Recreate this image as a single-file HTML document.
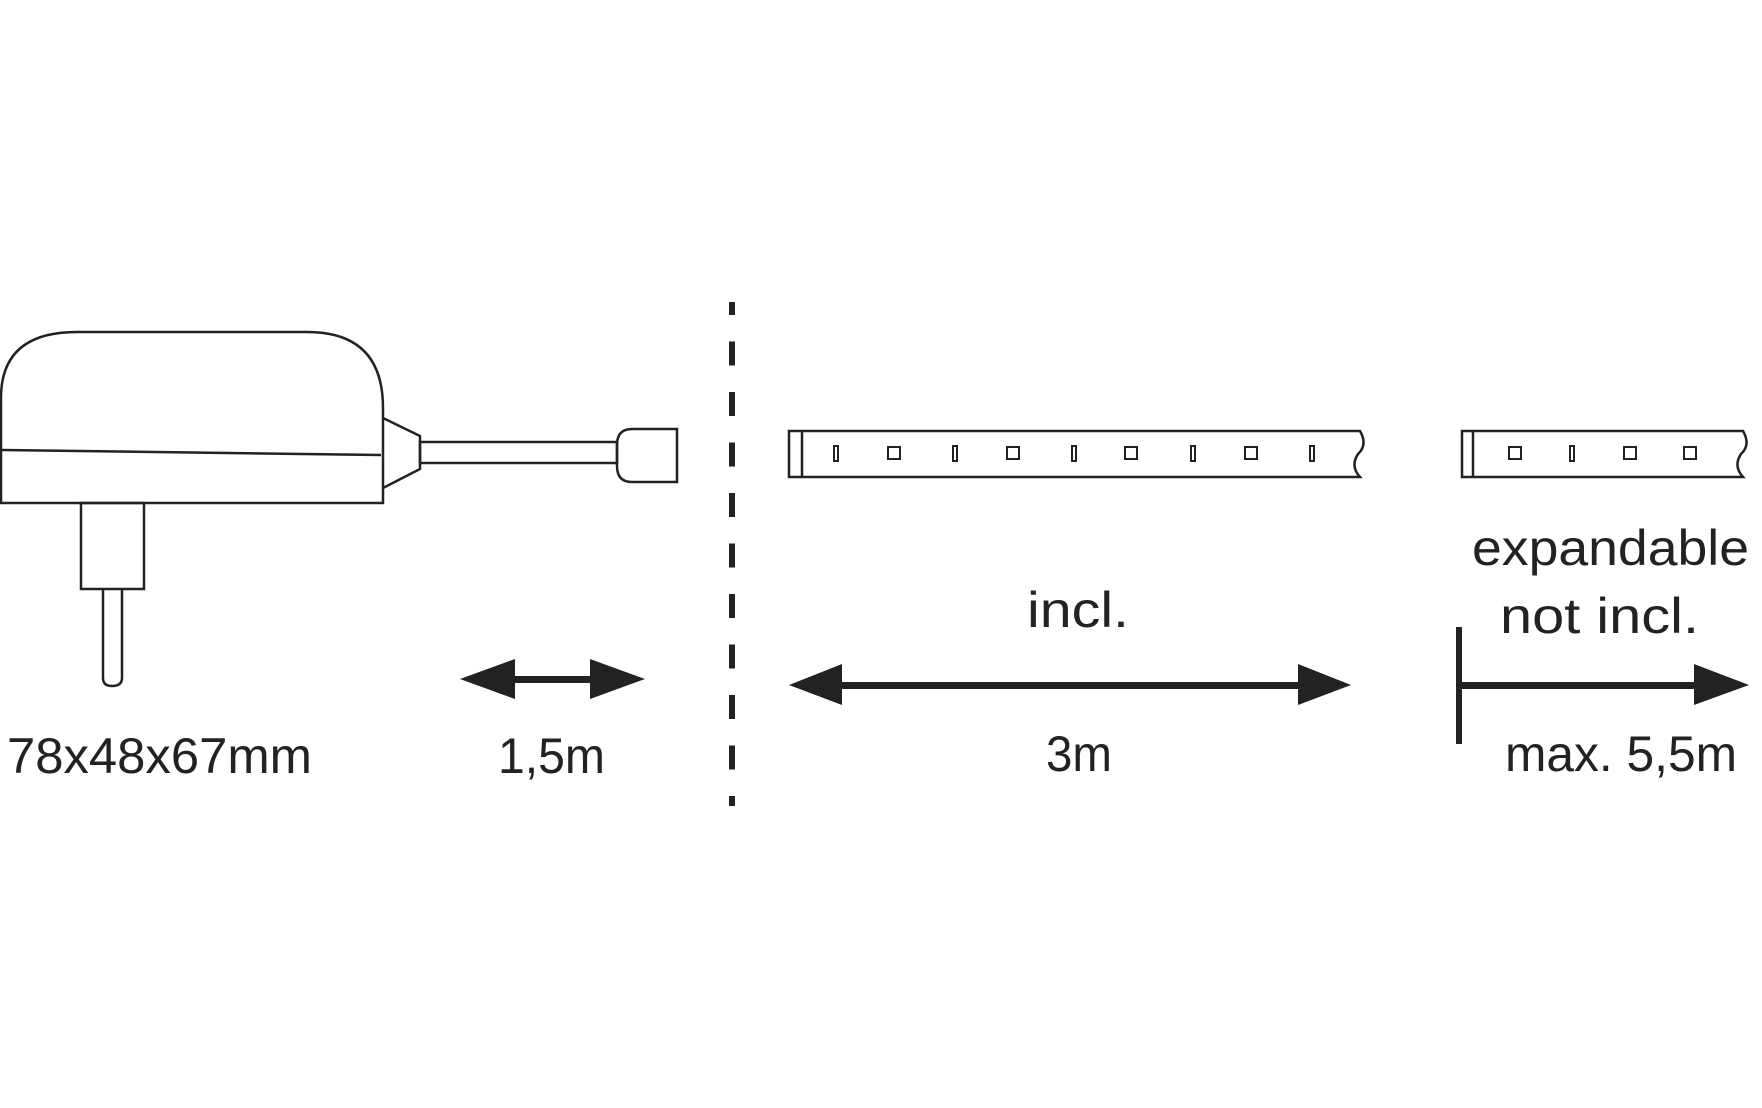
<!DOCTYPE html>
<html><head><meta charset="utf-8"><style>html,body{margin:0;padding:0;background:#fff}svg{display:block}</style></head>
<body>
<svg width="1762" height="1108" viewBox="0 0 1762 1108" xmlns="http://www.w3.org/2000/svg">
<g fill="none" stroke="#222" stroke-width="2.5">
<!-- adapter body -->
<path d="M1,503 L1,398 Q1,332 77,332 L307,332 Q383,332 383,408 L383,503 Z" fill="#fff"/>
<path d="M2,450 L381,455"/>
<path d="M383,418 L420,436 L420,469 L383,488"/>
<rect x="420" y="442" width="197" height="21"/>
<path d="M677,429 L632,429 Q617,429 617,445 L617,466 Q617,482 632,482 L677,482 Z"/>
<rect x="81" y="503" width="63" height="86"/>
<path d="M103,589 L103,678 Q103,686 112,686 Q122,686 122,678 L122,589"/>
<!-- strip 1 -->
<path d="M789,431 L1360,431 Q1368,445 1358,454 Q1350,466 1360,477 L789,477 Z"/>
<path d="M802,431 L802,477"/>
<!-- strip 2 -->
<path d="M1462,431 L1743,431 Q1751,445 1741,454 Q1733,466 1743,477 L1462,477 Z"/>
<path d="M1473,431 L1473,477"/>
</g>
<g fill="none" stroke="#222" stroke-width="2">
<rect x="834" y="446" width="4" height="15"/>
<rect x="888" y="447" width="12" height="12"/>
<rect x="953" y="446" width="4" height="15"/>
<rect x="1007" y="447" width="12" height="12"/>
<rect x="1072" y="446" width="4" height="15"/>
<rect x="1125" y="447" width="12" height="12"/>
<rect x="1191" y="446" width="4" height="15"/>
<rect x="1245" y="447" width="12" height="12"/>
<rect x="1310" y="446" width="4" height="15"/>
<rect x="1509" y="447" width="12" height="12"/>
<rect x="1570" y="446" width="4" height="15"/>
<rect x="1624" y="447" width="12" height="12"/>
<rect x="1684" y="447" width="12" height="12"/>
</g>
<!-- dashed divider -->
<line x1="732" y1="302" x2="732" y2="806" stroke="#222" stroke-width="6" stroke-dasharray="24 26.5" stroke-dashoffset="11"/>
<!-- arrows -->
<g fill="#222">
<rect x="510" y="676" width="80" height="7"/>
<polygon points="460,679 515,659 515,699"/>
<polygon points="645,679 590,659 590,699"/>
<rect x="838" y="682" width="460" height="7"/>
<polygon points="789,685 842,664 842,705"/>
<polygon points="1351,685 1298,664 1298,705"/>
<rect x="1459" y="682" width="240" height="7"/>
<polygon points="1749,685 1694,664 1694,705"/>
<rect x="1456" y="627" width="6" height="117"/>
</g>
<g fill="#222" font-family="Liberation Sans, sans-serif" font-size="50">
<text x="7" y="773" textLength="305" lengthAdjust="spacingAndGlyphs">78x48x67mm</text>
<text x="498" y="773" textLength="107" lengthAdjust="spacingAndGlyphs">1,5m</text>
<text x="1027" y="627" textLength="102" lengthAdjust="spacingAndGlyphs">incl.</text>
<text x="1046" y="771" textLength="66" lengthAdjust="spacingAndGlyphs">3m</text>
<text x="1472" y="565" textLength="277" lengthAdjust="spacingAndGlyphs">expandable</text>
<text x="1500" y="633" textLength="199" lengthAdjust="spacingAndGlyphs">not incl.</text>
<text x="1505" y="771" textLength="232" lengthAdjust="spacingAndGlyphs">max. 5,5m</text>
</g>
</svg>
</body></html>
